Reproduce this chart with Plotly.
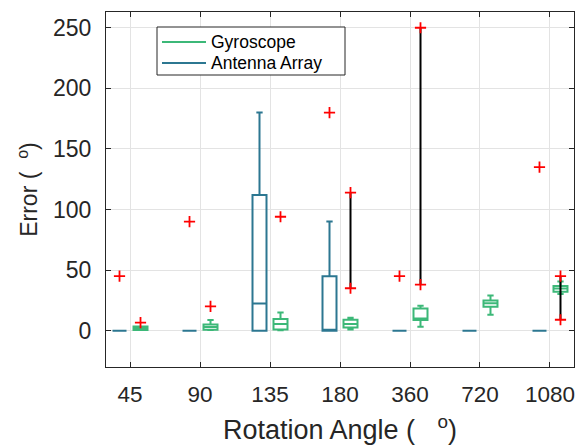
import plotly.graph_objects as go

# Rotation angles (categories on the x axis)
angles = ["45", "90", "135", "180", "360", "720", "1080"]

# Antenna Array error statistics (degrees)
ant_q1 = [0, 0, 0, 0, 0, 0, 0]
ant_median = [0, 0, 22.5, 0, 0, 0, 0]
ant_q3 = [0, 0, 112, 45, 0, 0, 0]
ant_low = [0, 0, 0, 0, 0, 0, 0]
ant_high = [0, 0, 180, 90, 0, 0, 0]
ant_outlier_angle = ["45", "90", "180", "360", "1080"]
ant_outlier_value = [45, 90, 180, 45, 135]

# Gyroscope error statistics (degrees)
gyr_q1 = [0.5, 0.8, 1.0, 2.5, 8.8, 19.8, 32.2]
gyr_median = [2.0, 3.0, 5.5, 5.5, 10.0, 22.6, 34.7]
gyr_q3 = [3.5, 5.0, 9.7, 9.0, 18.2, 24.8, 36.9]
gyr_low = [0.5, 0.5, 0.3, 1.0, 3.3, 13.2, 30.3]
gyr_high = [3.5, 8.8, 15.0, 10.7, 20.6, 29.0, 40.5]
gyr_outlier_angle = ["45", "90", "135"]
gyr_outlier_value = [6.6, 20, 94]
# Gyroscope outlier pairs joined by a line: angle, low, high
gyr_span_angle = ["180", "360", "1080"]
gyr_span_low = [35, 38, 9]
gyr_span_high = [114, 250, 45]

# Legend entries
legend_names = ["Gyroscope", "Antenna Array"]

ANT_COLOR = "#2c7791"
GYR_COLOR = "#3cb878"
OFFSET = 0.15
BOX_W = 0.2

W, H = 579, 448
M_L, M_R, M_T, M_B = 106, 5, 12, 81
PLOT_W = W - M_L - M_R
PLOT_H = H - M_T - M_B


def px_x(px):
    return (px - M_L) / PLOT_W


def px_y(py):
    return (H - M_B - py) / PLOT_H


pos = {a: i + 1 for i, a in enumerate(angles)}

fig = go.Figure()

fig.add_trace(go.Box(
    x=[pos[a] - OFFSET for a in angles],
    q1=ant_q1, median=ant_median, q3=ant_q3,
    lowerfence=ant_low, upperfence=ant_high,
    width=BOX_W, whiskerwidth=0.45, name=legend_names[1],
    line=dict(color=ANT_COLOR, width=2),
    fillcolor="rgba(0,0,0,0)", showlegend=False, hoverinfo="skip",
))
fig.add_trace(go.Box(
    x=[pos[a] + OFFSET for a in angles],
    q1=gyr_q1, median=gyr_median, q3=gyr_q3,
    lowerfence=gyr_low, upperfence=gyr_high,
    width=BOX_W, whiskerwidth=0.45, name=legend_names[0],
    line=dict(color=GYR_COLOR, width=2),
    fillcolor="rgba(0,0,0,0)", showlegend=False, hoverinfo="skip",
))

# joined outlier spans
for a, lo, hi in zip(gyr_span_angle, gyr_span_low, gyr_span_high):
    fig.add_trace(go.Scatter(
        x=[pos[a] + OFFSET, pos[a] + OFFSET], y=[lo, hi],
        mode="lines", line=dict(color="black", width=2),
        showlegend=False, hoverinfo="skip",
    ))

out_x = ([pos[a] - OFFSET for a in ant_outlier_angle]
         + [pos[a] + OFFSET for a in gyr_outlier_angle]
         + [pos[a] + OFFSET for a in gyr_span_angle] * 2)
out_y = ant_outlier_value + gyr_outlier_value + gyr_span_low + gyr_span_high
fig.add_trace(go.Scatter(
    x=out_x, y=out_y, mode="markers",
    marker=dict(symbol="cross-thin", size=8, line=dict(color="red", width=1.8)),
    showlegend=False, hoverinfo="skip",
))

# legend box drawn in the upper left of the axes
shapes = [dict(type="rect", xref="paper", yref="paper",
               x0=px_x(157), x1=px_x(345), y0=px_y(75), y1=px_y(27),
               line=dict(color="#262626", width=1), fillcolor="white", layer="above")]
annotations = []
for name, color, row_y in zip(legend_names, [GYR_COLOR, ANT_COLOR], [42, 63]):
    shapes.append(dict(type="line", xref="paper", yref="paper",
                       x0=px_x(162), x1=px_x(206), y0=px_y(row_y), y1=px_y(row_y),
                       line=dict(color=color, width=2), layer="above"))
    annotations.append(dict(text=name, xref="paper", yref="paper",
                            x=px_x(209), y=px_y(row_y), xanchor="left", yanchor="middle",
                            showarrow=False, font=dict(size=17.5, color="black")))

axis_common = dict(
    showline=True, linecolor="#262626", linewidth=1, mirror="ticks",
    ticks="inside", ticklen=5, tickcolor="#262626",
    showgrid=True, gridcolor="#e3e3e3", gridwidth=1,
    zeroline=False,
)

fig.update_layout(
    width=W, height=H,
    margin=dict(l=M_L, r=M_R, t=M_T, b=M_B),
    paper_bgcolor="white", plot_bgcolor="white",
    font=dict(family="Liberation Sans, Arial, sans-serif", color="#262626"),
    boxmode="overlay", showlegend=False,
    shapes=shapes, annotations=annotations,
    xaxis=dict(
        range=[0.657, 7.343], tickvals=list(range(1, len(angles) + 1)),
        ticktext=angles, ticklabelstandoff=7,
        tickfont=dict(size=22.5, color="#262626"),
        title=dict(text="Rotation Angle (   <sup>o</sup>)", font=dict(size=27), standoff=14),
        **axis_common,
    ),
    yaxis=dict(
        range=[-30, 263], tickvals=[0, 50, 100, 150, 200, 250],
        ticklabelstandoff=9,
        tickfont=dict(size=23, color="#262626"),
        title=dict(text="Error (  <sup>o</sup>)", font=dict(size=23), standoff=8),
        **axis_common,
    ),
)

fig.write_html("out.html")
